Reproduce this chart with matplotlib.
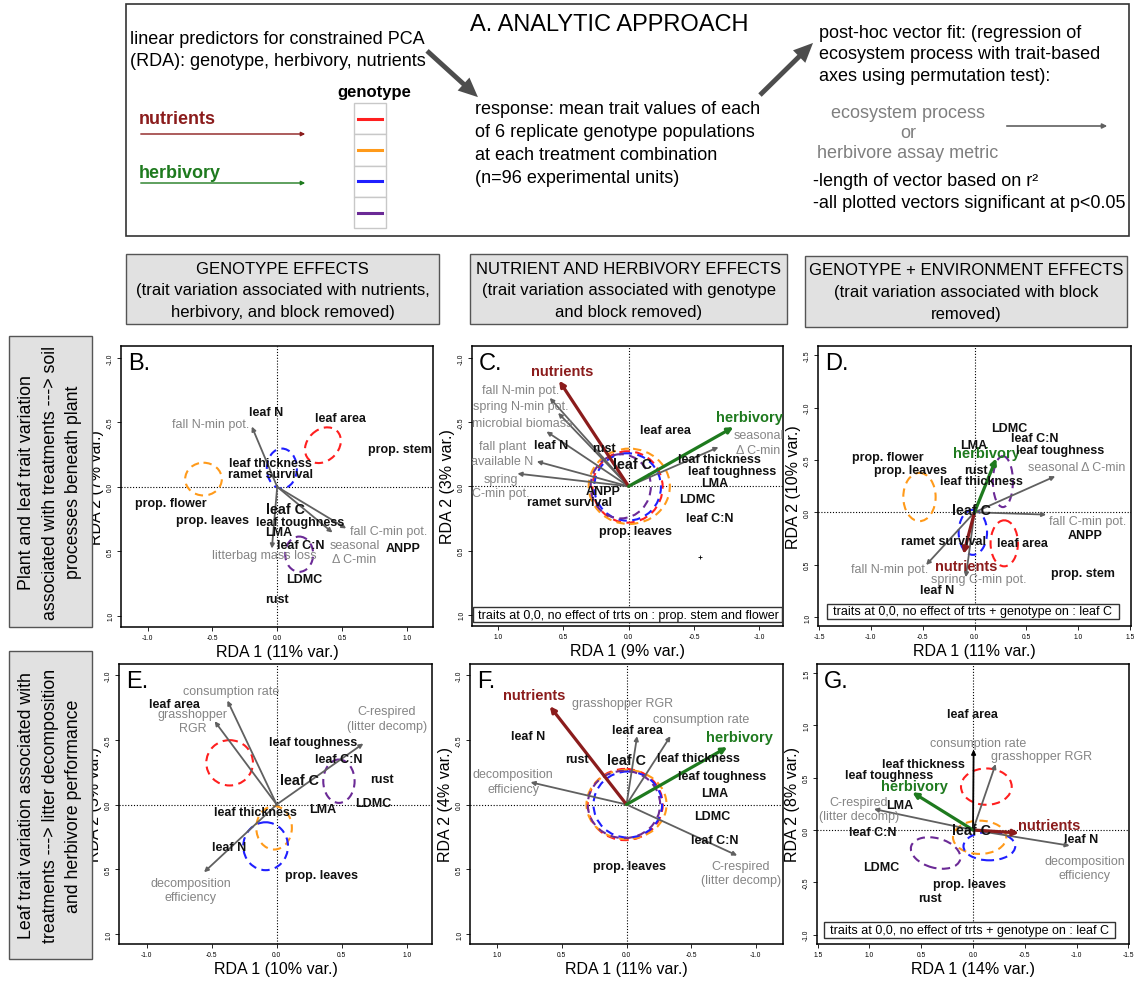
import matplotlib
matplotlib.use("Agg")
import matplotlib.pyplot as plt
from matplotlib.patches import Ellipse, Rectangle, FancyArrowPatch
from matplotlib.lines import Line2D

plt.rcParams['font.family'] = ['Liberation Sans', 'DejaVu Sans']

# ---------------- data ----------------
GENO_COLORS = ["#ff1f1f", "#ff9a1a", "#1f1fff", "#6b2a96"]   # red, orange, blue, purple
NUTR_COLOR = "#8b1c1c"
HERB_COLOR = "#1e7a1e"
VEC_COLOR = "#606060"
VEC_LABEL_COLOR = "#858585"

# Panel B  (genotype effects)
B_traits = [("leaf N", -0.085, -0.582), ("leaf area", 0.486, -0.533), ("prop. stem", 0.945, -0.292),
            ("leaf thickness", -0.049, -0.184), ("ramet survival", -0.049, -0.098),
            ("prop. flower", -0.821, 0.127), ("prop. leaves", -0.497, 0.254), ("leaf C", 0.062, 0.176),
            ("leaf toughness", 0.178, 0.272), ("LMA", 0.013, 0.349), ("leaf C:N", 0.185, 0.448),
            ("LDMC", 0.208, 0.719), ("rust", 0.0, 0.867), ("ANPP", 0.976, 0.476)]
B_vec_tips = [(-0.196, -0.468), (0.533, 0.323), (0.427, 0.355), (-0.041, 0.479)]
B_vec_labels = [("fall N-min pot.", -0.517, -0.489), ("fall C-min pot.", 0.86, 0.342),
                ("seasonal\nΔ C-min", 0.597, 0.505), ("litterbag mass loss", -0.098, 0.531)]
B_ellipses = [(0.353, -0.323, 0.31, 0.24, -45), (-0.569, -0.06, 0.283, 0.254, 0),
              (0.036, -0.142, 0.232, 0.31, 0), (0.17, 0.523, 0.216, 0.274, 0)]

# Panel C  (nutrient and herbivory effects)
C_traits = [("leaf area", -0.281, -0.435), ("rust", 0.186, -0.298), ("leaf N", 0.595, -0.324),
            ("leaf C", -0.026, -0.176), ("leaf thickness", -0.694, -0.21), ("leaf toughness", -0.791, -0.116),
            ("LMA", -0.656, -0.028), ("ANPP", 0.191, 0.036), ("ramet survival", 0.454, 0.122),
            ("LDMC", -0.528, 0.101), ("leaf C:N", -0.618, 0.243), ("prop. leaves", -0.051, 0.349)]
C_vec_tips = [(0.603, -0.689), (0.539, -0.572), (0.628, -0.427), (0.702, -0.194), (0.85, -0.099),
              (-0.687, -0.305)]
C_vec_labels = [("fall N-min pot.", 0.824, -0.753), ("spring N-min pot.", 0.824, -0.629),
                ("microbial biomass", 0.812, -0.492), ("fall plant\navailable N", 0.965, -0.256),
                ("spring\nC-min pot.", 0.978, 0.0), ("seasonal\nΔ C-min", -0.993, -0.342)]
C_nutrients = (0.531, -0.823, 0.505, -0.895)
C_herbivory = (-0.801, -0.461, -0.924, -0.543)
C_ellipses = [(0.008, 0.005, 0.536, 0.556, 0), (-0.005, 0.0, 0.62, 0.587, 0),
              (0.008, 0.005, 0.51, 0.525, 0), (0.06, 0.0, 0.46, 0.5, 0)]
C_point = (-0.546, 0.549)
C_note = "traits at 0,0, no effect of trts on : prop. stem and flower"

# Panel D  (genotype + environment effects)
D_traits = [("LDMC", 0.338, -0.80), ("LMA", -0.01, -0.642), ("leaf C:N", 0.586, -0.706),
            ("leaf toughness", 0.828, -0.595), ("prop. flower", -0.841, -0.525),
            ("prop. leaves", -0.615, -0.404), ("rust", 0.013, -0.407), ("leaf thickness", 0.071, -0.302),
            ("leaf C", -0.026, -0.025), ("ramet survival", -0.3, 0.27), ("leaf area", 0.467, 0.296),
            ("ANPP", 1.069, 0.213), ("prop. stem", 1.043, 0.579), ("leaf N", -0.357, 0.738)]
D_vec_tips = [(0.779, -0.344), (0.692, 0.022), (-0.467, 0.503), (-0.084, 0.62)]
D_vec_labels = [("seasonal Δ C-min", 0.989, -0.429), ("fall C-min pot.", 1.092, 0.083),
                ("fall N-min pot.", -0.815, 0.541), ("spring C-min pot.", 0.039, 0.639)]
D_nutrients = (-0.106, 0.398, -0.08, 0.509)
D_herbivory = (0.21, -0.515, 0.119, -0.566)
D_ellipses = [(0.287, 0.296, 0.264, 0.439, 0), (-0.531, -0.146, 0.312, 0.461, 0),
              (-0.016, 0.191, 0.274, 0.43, 0), (0.274, -0.293, 0.193, 0.487, 0)]
D_note = "traits at 0,0, no effect of trts + genotype on : leaf C"

# Panel E
E_traits = [("leaf area", -0.785, -0.777), ("leaf toughness", 0.282, -0.481), ("leaf C:N", 0.479, -0.353),
            ("leaf C", 0.174, -0.193), ("rust", 0.808, -0.2), ("LDMC", 0.744, -0.008),
            ("LMA", 0.351, 0.031), ("leaf thickness", -0.162, 0.057), ("leaf N", -0.367, 0.327),
            ("prop. leaves", 0.344, 0.541)]
E_vec_tips = [(-0.379, -0.803), (-0.477, -0.643), (0.667, -0.471), (-0.559, 0.523)]
E_vec_labels = [("consumption rate", -0.354, -0.88), ("grasshopper\nRGR", -0.644, -0.644),
                ("C-respired\n(litter decomp)", 0.846, -0.664), ("decomposition\nefficiency", -0.662, 0.662)]
E_ellipses = [(-0.362, -0.322, 0.359, 0.35, 0), (-0.02, 0.18, 0.274, 0.335, 0),
              (-0.085, 0.322, 0.344, 0.37, 0), (0.479, -0.18, 0.241, 0.335, 0)]

# Panel F
F_traits = [("leaf N", 0.76, -0.528), ("leaf area", -0.082, -0.579), ("rust", 0.387, -0.353),
            ("leaf C", 0.003, -0.34), ("leaf thickness", -0.559, -0.358), ("leaf toughness", -0.74, -0.219),
            ("LMA", -0.681, -0.09), ("LDMC", -0.663, 0.085), ("leaf C:N", -0.683, 0.275),
            ("prop. leaves", -0.026, 0.471)]
F_vec_tips = [(-0.082, -0.528), (-0.34, -0.528), (0.742, -0.172), (-0.856, 0.394)]
F_vec_labels = [("grasshopper RGR", 0.034, -0.785), ("consumption rate", -0.58, -0.662),
                ("decomposition\nefficiency", 0.877, -0.178), ("C-respired\n(litter decomp)", -0.882, 0.53)]
F_nutrients = (0.593, -0.759, 0.717, -0.842)
F_herbivory = (-0.779, -0.443, -0.877, -0.52)
F_ellipses = [(0.01, 0.0, 0.58, 0.55, 0), (0.0, 0.0, 0.619, 0.535, 0),
              (-0.01, 0.0, 0.53, 0.51, 0), (0.02, 0.0, 0.56, 0.52, 0)]

# Panel G
G_traits = [("leaf area", 0.006, 1.108), ("leaf thickness", 0.477, 0.63), ("leaf toughness", 0.812, 0.525),
            ("LMA", 0.709, 0.242), ("leaf C:N", 0.973, -0.016), ("leaf C", 0.016, -0.003),
            ("leaf N", -1.047, -0.086), ("LDMC", 0.886, -0.357), ("prop. leaves", 0.032, -0.516),
            ("rust", 0.412, -0.653)]
G_vec_tips = [(-0.006, 0.767), (-0.219, 0.63), (0.957, 0.2), (-0.934, -0.15)]
G_vec_colors = ["black", VEC_COLOR, VEC_COLOR, VEC_COLOR]
G_vec_labels = [("consumption rate", -0.048, 0.831), ("grasshopper RGR", -0.66, 0.704),
                ("C-respired\n(litter decomp)", 1.105, 0.197), ("decomposition\nefficiency", -1.079, -0.36)]
G_nutrients = (-0.444, -0.029, -0.734, 0.048)
G_herbivory = (0.586, 0.36, 0.564, 0.423)
G_ellipses = [(-0.129, 0.414, 0.49, 0.347, 0), (-0.064, -0.07, 0.515, 0.318, 0),
              (-0.158, -0.155, 0.5, 0.27, 0), (0.361, -0.22, 0.49, 0.283, 15)]
G_note = "traits at 0,0, no effect of trts + genotype on : leaf C"

TICKS_1 = [-1.0, -0.5, 0.0, 0.5, 1.0]
TICKS_15 = [-1.5, -1.0, -0.5, 0.0, 0.5, 1.0, 1.5]

# ---------------- figure ----------------
W, H = 1141, 987
fig = plt.figure(figsize=(W / 100, H / 100), dpi=100)


def fx(x):
    return x / W


def fy(y):
    return 1 - y / H


def ftext(x, y, s, **kw):
    kw.setdefault("ha", "left")
    kw.setdefault("va", "center")
    fig.text(fx(x), fy(y), s, **kw)


def frect(x0, y0, x1, y1, **kw):
    fig.add_artist(Rectangle((fx(x0), fy(y1)), fx(x1) - fx(x0), fy(y0) - fy(y1),
                             transform=fig.transFigure, **kw))


def farrow(p0, p1, **kw):
    fig.add_artist(FancyArrowPatch((fx(p0[0]), fy(p0[1])), (fx(p1[0]), fy(p1[1])),
                                   transform=fig.transFigure, **kw))


# ---- panel A box ----
frect(126, 5, 1129, 237, facecolor="white", edgecolor="#333333", lw=1.2)
ftext(609, 25, "A. ANALYTIC APPROACH", ha="center", fontsize=17)
ftext(130, 39, "linear predictors for constrained PCA", fontsize=13)
ftext(130, 62, "(RDA): genotype, herbivory, nutrients", fontsize=13)
farrow((425, 50), (480, 100), arrowstyle="simple,head_length=1.0,head_width=0.9,tail_width=0.25",
       mutation_scale=14, color="#4d4d4d", lw=0)
for i, s in enumerate(["response: mean trait values of each", "of 6 replicate genotype populations",
                       "at each treatment combination", "(n=96 experimental units)"]):
    ftext(475, 110 + i * 22.8, s, fontsize=13)
farrow((758, 98), (815, 42), arrowstyle="simple,head_length=1.0,head_width=0.9,tail_width=0.25",
       mutation_scale=14, color="#4d4d4d", lw=0)
for i, s in enumerate(["post-hoc vector fit: (regression of", "ecosystem process with trait-based",
                       "axes using permutation test):"]):
    ftext(819, 33 + i * 21.7, s, fontsize=13)
ftext(908, 113, "ecosystem process", ha="center", fontsize=13, color="#7f7f7f")
ftext(908, 134, "or", ha="center", fontsize=13, color="#7f7f7f")
ftext(908, 154, "herbivore assay metric", ha="center", fontsize=13, color="#7f7f7f")
farrow((1004, 127), (1110, 127), arrowstyle="-|>", mutation_scale=7, lw=1.2, color="#606060")
ftext(813, 182, "-length of vector based on r²", fontsize=13)
ftext(813, 204, "-all plotted vectors significant at p<0.05", fontsize=13)

ftext(139, 120, "nutrients", fontsize=13, fontweight="bold", color=NUTR_COLOR)
farrow((138, 135), (308, 135), arrowstyle="-|>", mutation_scale=6, lw=1.0, color=NUTR_COLOR)
ftext(139, 173, "herbivory", fontsize=13, fontweight="bold", color=HERB_COLOR)
farrow((138, 184), (308, 184), arrowstyle="-|>", mutation_scale=6, lw=1.0, color=HERB_COLOR)

ftext(374, 92, "genotype", ha="center", fontsize=12, fontweight="bold")
cell_top = 104
cell_h = 31.3
for i, c in enumerate(GENO_COLORS):
    y0 = cell_top + i * cell_h
    frect(354, y0, 386, y0 + cell_h, facecolor="white", edgecolor="#c8c8c8", lw=1.0)
    fig.add_artist(Line2D([fx(358), fx(382)], [fy(y0 + cell_h / 2)] * 2, transform=fig.transFigure,
                          color=c, lw=2.2))

# ---- header boxes ----
HDR_FILL = "#e1e1e1"
headers = [
    (126, 439, 255, 325, ["GENOTYPE EFFECTS", "(trait variation associated with nutrients,",
                          "herbivory, and block removed)"]),
    (470, 787, 255, 325, ["NUTRIENT AND HERBIVORY EFFECTS", "(trait variation associated with genotype",
                          "and block removed)"]),
    (805, 1127, 257, 328, ["GENOTYPE + ENVIRONMENT EFFECTS", "(trait variation associated with block",
                           "removed)"]),
]
for x0, x1, y0, y1, lines in headers:
    frect(x0, y0, x1, y1, facecolor=HDR_FILL, edgecolor="#555555", lw=1.0)
    cx = (x0 + x1) / 2
    for i, s in enumerate(lines):
        ftext(cx, y0 + 14 + i * 22, s, ha="center", fontsize=12)

# ---- left row boxes ----
rows = [
    (337, 628, ["Plant and leaf trait variation", "associated with treatments ---> soil",
                "processes beneath plant"]),
    (652, 960, ["Leaf trait variation associated with", "treatments ---> litter decomposition",
                "and herbivore performance"]),
]
for y0, y1, lines in rows:
    frect(9, y0, 92, y1, facecolor=HDR_FILL, edgecolor="#555555", lw=1.0)
    cy = (y0 + y1) / 2
    for i, s in enumerate(lines):
        ftext(27 + i * 23.5, cy, s, ha="center", va="center", rotation=90, fontsize=12.8)


# ---------------- biplot panels ----------------
def panel(rect, xlim, ylim, xticks, yticks, xlabel, ylabel, letter, traits, vec_tips, vec_labels,
          ellipses, nutr=None, herb=None, note=None, note_box=None, vec_colors=None, point=None):
    l, t, r, b = rect
    ax = fig.add_axes([fx(l), fy(b), (r - l) / W, (b - t) / H])
    ax.set_xlim(*xlim)
    ax.set_ylim(*ylim)
    ax.set_xticks(xticks)
    ax.set_xticklabels([f"{v:.1f}" for v in xticks])
    ax.set_yticks(yticks)
    ax.set_yticklabels([f"{v:.1f}" for v in yticks], rotation=90, va="center")
    ax.tick_params(direction="out", length=3, width=0.6, labelsize=4.8, pad=2)
    for sp in ax.spines.values():
        sp.set_linewidth(1.1)
    ax.set_xlabel(xlabel, fontsize=11.5, labelpad=2)
    ax.set_ylabel(ylabel, fontsize=11.5, labelpad=2)
    ax.axhline(0, color="black", lw=0.8, ls=(0, (1, 1.6)), zorder=1)
    ax.axvline(0, color="black", lw=0.8, ls=(0, (1, 1.6)), zorder=1)
    # genotype ellipses
    for (ex, ey, ew, eh, ang), c in zip(ellipses, GENO_COLORS):
        ax.add_patch(Ellipse((ex, ey), ew, eh, angle=ang, fill=False, edgecolor=c, lw=1.5,
                             ls=(0, (4, 2.6)), zorder=2))
    # fitted process vectors
    if vec_colors is None:
        vec_colors = [VEC_COLOR] * len(vec_tips)
    for (vx, vy), c in zip(vec_tips, vec_colors):
        ax.annotate("", xy=(vx, vy), xytext=(0, 0),
                    arrowprops=dict(arrowstyle="-|>", color=c, lw=1.3, mutation_scale=6,
                                    shrinkA=0, shrinkB=0), zorder=3)
    for s, lx, ly in vec_labels:
        ax.text(lx, ly, s, ha="center", va="center", fontsize=9, color=VEC_LABEL_COLOR,
                linespacing=1.25, clip_on=True, zorder=5)
    # treatment vectors
    for spec, c, name in ((nutr, NUTR_COLOR, "nutrients"), (herb, HERB_COLOR, "herbivory")):
        if spec is None:
            continue
        tx, ty, lx, ly = spec
        ax.annotate("", xy=(tx, ty), xytext=(0, 0),
                    arrowprops=dict(arrowstyle="-|>", color=c, lw=2.3, mutation_scale=8,
                                    shrinkA=0, shrinkB=0), zorder=4)
        ax.text(lx, ly, name, ha="center", va="center", fontsize=10.5, fontweight="bold", color=c,
                clip_on=True, zorder=6)
    # trait scores
    for s, tx, ty in traits:
        ax.text(tx, ty, s, ha="center", va="center", fontsize=10.3 if s == "leaf C" else 9,
                fontweight="bold", color="#111111", clip_on=True, zorder=6)
    if point is not None:
        ax.plot([point[0]], [point[1]], marker="+", color="black", ms=3, mew=0.6, zorder=5)
    if note is not None:
        nx0, ny0, nx1, ny1, ntx = note_box
        ax.add_patch(Rectangle((nx0, ny0), nx1 - nx0, ny1 - ny0, transform=ax.transAxes,
                               facecolor="white", edgecolor="#333333", lw=1.0, zorder=7))
        ax.text(ntx, (ny0 + ny1) / 2, note, transform=ax.transAxes, ha="left", va="center",
                fontsize=9, zorder=8)
    ax.text(0.022, 0.978, letter, transform=ax.transAxes, ha="left", va="top", fontsize=17, zorder=8)
    return ax


panel((121, 347, 433, 628), (-1.206, 1.203), (1.088, -1.093), TICKS_1, TICKS_1,
      "RDA 1 (11% var.)", "RDA 2 (7% var.)", "B.", B_traits, B_vec_tips, B_vec_labels, B_ellipses)

panel((472, 347, 783, 627), (1.197, -1.18), (1.088, -1.093), TICKS_1, TICKS_1,
      "RDA 1 (9% var.)", "RDA 2 (3% var.)", "C.", C_traits, C_vec_tips, C_vec_labels, C_ellipses,
      nutr=C_nutrients, herb=C_herbivory, note=C_note, note_box=(0.003, 0.014, 0.997, 0.068, 0.019),
      point=C_point)

panel((818, 347, 1131, 627), (-1.51, 1.51), (1.085, -1.587), TICKS_15, TICKS_15[:-1],
      "RDA 1 (11% var.)", "RDA 2 (10% var.)", "D.", D_traits, D_vec_tips, D_vec_labels, D_ellipses,
      nutr=D_nutrients, herb=D_herbivory, note=D_note, note_box=(0.028, 0.025, 0.962, 0.079, 0.047))

panel((119, 665, 432, 945), (-1.213, 1.195), (1.077, -1.085), TICKS_1, TICKS_1,
      "RDA 1 (10% var.)", "RDA 2 (5% var.)", "E.", E_traits, E_vec_tips, E_vec_labels, E_ellipses)

panel((470, 665, 783, 945), (1.21, -1.21), (1.077, -1.085), TICKS_1, TICKS_1,
      "RDA 1 (11% var.)", "RDA 2 (4% var.)", "F.", F_traits, F_vec_tips, F_vec_labels, F_ellipses,
      nutr=F_nutrients, herb=F_herbivory)

panel((817, 665, 1129, 945), (1.507, -1.507), (-1.089, 1.585), TICKS_15, TICKS_15[1:],
      "RDA 1 (14% var.)", "RDA 2 (8% var.)", "G.", G_traits, G_vec_tips, G_vec_labels, G_ellipses,
      nutr=G_nutrients, herb=G_herbivory, note=G_note, note_box=(0.022, 0.021, 0.955, 0.079, 0.042),
      vec_colors=G_vec_colors)

fig.savefig("out.png", dpi=100)
